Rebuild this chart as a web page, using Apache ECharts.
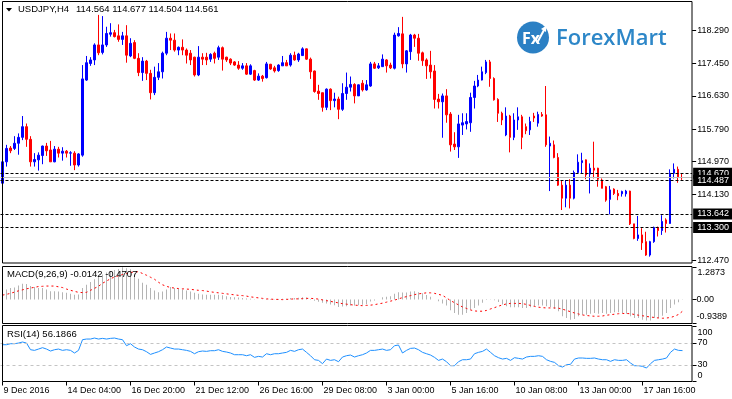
<!DOCTYPE html>
<html>
<head>
<meta charset="utf-8">
<script src="https://cdn.jsdelivr.net/npm/echarts@6/dist/echarts.min.js"></script>
<style>
  html, body { margin: 0; padding: 0; background: #fff; }
  #chart { width: 732px; height: 399px; }
</style>
</head>
<body>
<div id="chart"></div>
<script>
  // USDJPY H4 bars
  const open = [114.42,114.96,115.31,115.30,115.43,115.58,115.85,115.53,114.96,115.01,
    115.12,115.36,115.26,114.96,115.28,115.18,115.23,115.18,115.18,114.88,
    115.13,117.03,117.45,117.54,117.92,117.73,117.92,118.19,118.23,118.15,
    118.06,118.15,117.64,117.98,117.58,117.22,117.51,117.20,116.71,117.10,
    117.24,117.71,118.09,118.04,117.79,117.86,117.79,117.71,117.61,117.16,
    117.61,117.61,117.56,117.71,117.61,117.85,117.61,117.56,117.49,117.41,
    117.33,117.39,117.18,117.27,117.03,117.13,117.09,117.43,117.34,117.27,
    117.39,117.47,117.41,117.66,117.54,117.65,117.82,117.56,117.26,116.75,
    116.71,116.34,116.80,116.51,116.55,116.29,116.69,116.85,116.92,116.63,
    116.95,116.78,116.88,117.44,117.34,117.37,117.54,117.41,117.33,118.15,
    118.20,117.44,117.75,118.17,118.09,117.72,117.54,117.41,117.26,116.55,
    116.48,116.63,116.17,115.41,115.34,115.89,115.92,115.95,116.59,116.88,
    117.03,117.22,117.49,117.07,116.54,116.19,115.64,116.12,115.58,116.02,
    116.10,115.85,115.77,116.12,115.94,116.16,116.15,115.36,115.39,115.07,
    114.37,114.04,114.37,114.04,114.69,114.94,115.01,114.65,114.80,114.80,
    114.50,114.33,114.01,114.27,114.16,114.15,114.15,114.22,113.39,113.02,
    113.11,112.94,112.60,112.94,113.30,113.22,113.49,113.40,114.67,114.77,
    114.564];
  const close = [114.96,115.30,115.24,115.43,115.58,115.85,115.53,114.96,115.02,115.13,
    115.36,115.24,114.96,115.28,115.18,115.23,115.18,115.19,114.88,115.16,
    117.06,117.47,117.54,117.92,117.72,117.92,118.21,118.23,118.13,118.06,
    118.15,117.66,117.96,117.58,117.22,117.51,117.20,116.71,117.10,117.24,
    117.71,118.09,118.04,117.79,117.86,117.79,117.66,117.54,117.16,117.61,
    117.56,117.54,117.68,117.58,117.85,117.56,117.54,117.46,117.41,117.33,
    117.39,117.18,117.39,117.03,117.13,117.07,117.44,117.31,117.26,117.41,
    117.47,117.39,117.66,117.54,117.69,117.82,117.56,117.24,116.74,116.69,
    116.34,116.80,116.51,116.55,116.29,116.69,116.85,116.92,116.63,116.91,
    116.78,116.91,117.44,117.33,117.39,117.56,117.39,117.34,118.17,118.21,
    117.44,117.77,118.17,118.09,117.71,117.52,117.39,117.24,116.54,116.48,
    116.63,116.15,115.39,115.34,115.92,115.95,115.98,116.59,116.88,117.03,
    117.24,117.49,117.07,116.53,116.19,116.02,116.12,115.58,116.02,116.10,
    115.58,115.75,115.98,116.07,116.16,116.12,115.39,115.43,115.07,114.37,
    114.04,114.37,114.04,114.69,114.95,114.99,114.63,114.80,114.75,114.52,
    114.29,113.99,114.25,114.16,114.10,114.21,114.22,113.39,113.02,113.11,
    112.91,112.60,112.94,113.30,113.22,113.45,113.40,114.67,114.77,114.58,
    114.561];
  const low = [114.37,114.84,115.18,115.26,115.14,115.51,115.34,114.84,114.84,114.74,
    114.90,115.11,114.96,114.95,115.07,114.99,115.07,114.86,114.75,114.84,
    115.09,117.01,117.39,117.41,117.66,117.68,117.87,118.13,118.11,118.00,
    117.92,117.47,117.61,117.56,117.13,117.01,117.03,116.54,116.65,117.03,
    117.07,117.66,117.79,117.75,117.66,117.66,117.45,117.41,117.12,117.13,
    117.41,117.41,117.49,117.45,117.54,117.27,117.49,117.41,117.39,117.29,
    117.29,117.16,117.16,117.01,117.01,116.99,117.07,117.29,117.22,117.24,
    117.39,117.39,117.37,117.52,117.49,117.64,117.54,117.06,116.71,116.53,
    116.23,116.27,116.27,116.34,116.04,116.25,116.53,116.74,116.44,116.63,
    116.74,116.76,116.86,117.31,117.31,117.37,117.22,117.31,117.30,118.13,
    117.33,117.22,117.54,117.87,117.52,117.39,117.06,117.07,116.31,116.31,
    115.57,115.95,115.22,115.26,115.06,115.64,115.78,115.72,116.31,116.85,
    117.02,117.18,116.86,116.51,115.97,115.89,115.61,115.20,115.51,115.77,
    115.28,115.66,115.64,115.97,115.85,116.10,115.34,114.22,115.05,114.35,
    113.74,113.81,113.78,114.01,114.67,114.67,114.52,114.16,114.54,114.33,
    114.29,113.95,113.63,114.12,113.99,114.08,114.08,113.36,113.00,112.96,
    112.73,112.58,112.56,112.91,113.07,113.11,113.17,113.39,114.54,114.43,
    114.504];
  const high = [115.28,115.39,115.36,115.61,115.68,116.12,115.93,115.61,115.18,115.20,
    115.37,115.44,115.49,115.36,115.34,115.33,115.26,115.23,115.23,115.18,
    117.41,117.64,117.61,117.96,118.68,118.65,118.38,118.47,118.30,118.44,
    118.25,118.42,118.09,118.04,117.71,117.61,117.54,117.29,117.37,117.46,
    117.75,118.25,118.21,118.21,117.88,118.06,117.83,117.79,117.62,117.89,
    117.71,117.72,117.71,117.75,117.90,117.88,117.62,117.58,117.51,117.51,
    117.46,117.46,117.43,117.29,117.20,117.16,117.49,117.44,117.39,117.43,
    117.64,117.54,117.71,117.75,117.72,117.86,117.83,117.60,117.27,116.91,
    116.71,116.82,116.82,116.71,116.61,116.95,117.22,117.12,116.95,116.92,
    117.03,117.03,117.49,117.49,117.46,117.68,117.56,117.47,118.23,118.37,
    118.63,117.79,118.20,118.20,118.20,117.75,117.58,117.77,117.41,116.68,
    116.69,116.80,116.22,115.71,116.15,116.19,116.19,116.71,117.01,117.16,
    117.37,117.54,117.54,117.10,116.57,116.23,116.34,116.15,116.19,116.34,
    116.15,115.93,116.10,116.20,116.23,116.22,116.88,115.60,115.50,115.18,
    114.50,114.50,114.52,114.74,115.15,115.19,115.02,114.92,115.47,114.81,
    114.54,114.35,114.35,114.29,114.25,114.23,114.25,114.23,113.39,113.59,
    113.28,113.19,112.96,113.32,113.32,113.61,113.53,114.77,114.92,114.84,
    114.677];

  // MACD(9,26,9): main (histogram) and signal
  const macd = [0.28,0.39,0.45,0.47,0.55,0.62,0.61,0.53,0.49,0.45,
    0.45,0.39,0.32,0.32,0.31,0.28,0.26,0.22,0.18,0.19,
    0.45,0.58,0.69,0.80,0.89,0.99,1.07,1.12,1.17,1.21,
    1.28,1.24,1.20,1.03,0.82,0.66,0.58,0.45,0.35,0.28,
    0.31,0.39,0.49,0.45,0.42,0.39,0.35,0.31,0.26,0.22,
    0.19,0.18,0.18,0.18,0.18,0.16,0.12,0.09,0.08,0.07,
    0.05,0.04,0.03,0.01,0.00,-0.01,0.02,0.02,0.01,0.02,
    0.03,0.03,0.05,0.05,0.06,0.08,0.07,0.02,-0.05,-0.09,
    -0.13,-0.16,-0.20,-0.23,-0.30,-0.28,-0.27,-0.24,-0.24,-0.23,
    -0.21,-0.19,-0.08,-0.04,0.00,0.08,0.10,0.12,0.22,0.28,
    0.27,0.27,0.31,0.32,0.28,0.24,0.17,0.10,0.00,-0.07,
    -0.16,-0.24,-0.43,-0.54,-0.61,-0.61,-0.54,-0.40,-0.34,-0.24,
    -0.13,-0.02,-0.01,-0.03,-0.10,-0.20,-0.27,-0.31,-0.31,-0.31,
    -0.34,-0.34,-0.31,-0.27,-0.24,-0.24,-0.27,-0.30,-0.38,-0.47,
    -0.67,-0.74,-0.81,-0.78,-0.67,-0.61,-0.61,-0.57,-0.54,-0.57,
    -0.54,-0.57,-0.54,-0.51,-0.51,-0.54,-0.57,-0.67,-0.74,-0.74,
    -0.81,-0.84,-0.84,-0.74,-0.74,-0.65,-0.54,-0.34,-0.20,-0.11,
    -0.0142];
  const signal = [0.17,0.20,0.24,0.29,0.34,0.38,0.42,0.45,0.48,0.51,
    0.52,0.53,0.53,0.53,0.50,0.47,0.41,0.36,0.32,0.28,
    0.27,0.28,0.36,0.44,0.52,0.64,0.73,0.82,0.89,0.94,
    0.99,1.03,1.07,1.09,1.10,1.03,0.96,0.88,0.80,0.68,
    0.58,0.52,0.47,0.45,0.43,0.42,0.41,0.40,0.38,0.36,
    0.35,0.33,0.30,0.28,0.26,0.24,0.22,0.20,0.18,0.16,
    0.15,0.13,0.10,0.08,0.06,0.04,0.02,0.01,0.00,0.00,
    -0.01,0.00,0.01,0.02,0.02,0.03,0.04,0.04,0.03,0.01,
    -0.02,-0.05,-0.08,-0.11,-0.14,-0.17,-0.19,-0.21,-0.23,-0.24,
    -0.25,-0.24,-0.23,-0.21,-0.18,-0.15,-0.11,-0.07,-0.03,0.02,
    0.07,0.11,0.15,0.19,0.22,0.24,0.26,0.26,0.24,0.20,
    0.16,0.06,-0.05,-0.13,-0.22,-0.30,-0.36,-0.42,-0.46,-0.47,
    -0.47,-0.44,-0.38,-0.33,-0.27,-0.22,-0.18,-0.16,-0.16,-0.16,
    -0.17,-0.20,-0.24,-0.28,-0.31,-0.33,-0.34,-0.34,-0.34,-0.35,
    -0.39,-0.44,-0.49,-0.54,-0.58,-0.62,-0.64,-0.66,-0.67,-0.67,
    -0.66,-0.63,-0.61,-0.59,-0.57,-0.56,-0.56,-0.57,-0.60,-0.63,
    -0.65,-0.68,-0.70,-0.72,-0.74,-0.75,-0.74,-0.72,-0.67,-0.60,
    -0.4707];

  // RSI(14)
  const rsi = [66.9,66.9,68.7,68.7,69.9,71.8,69.9,57.8,56.6,59.0,
    61.5,59.0,55.4,57.8,59.0,56.6,57.8,56.6,51.8,56.6,
    76.0,77.2,77.2,79.0,77.2,78.4,77.2,78.4,79.0,77.2,
    76.0,65.1,68.7,62.7,59.0,57.8,54.2,49.3,51.8,54.2,
    57.8,62.7,60.8,59.0,59.0,57.8,56.6,54.8,50.5,54.2,
    55.4,54.8,56.0,56.0,57.8,54.8,53.6,51.8,48.7,48.7,
    48.7,46.9,48.7,43.9,45.7,44.5,50.5,48.7,50.5,50.5,
    51.8,53.0,56.6,54.8,57.8,59.0,53.0,46.9,39.6,38.4,
    32.4,40.8,38.4,39.6,36.0,44.5,46.9,48.1,44.5,46.9,
    48.7,51.8,56.6,56.6,57.8,59.0,56.6,57.8,65.1,66.3,
    51.8,56.6,60.2,60.8,57.8,53.0,50.5,48.1,43.9,38.4,
    40.8,36.0,28.7,28.7,36.0,39.6,39.6,40.8,50.5,53.0,
    54.8,59.0,53.0,46.9,43.3,40.8,42.1,38.4,43.3,42.1,
    40.8,44.5,45.7,45.7,46.9,45.7,39.6,36.6,34.8,28.7,
    26.3,30.5,31.2,40.8,42.7,42.7,42.1,42.1,42.7,40.8,
    39.6,39.6,36.6,39.6,38.4,38.4,39.6,33.6,28.7,28.7,
    27.5,24.5,32.4,38.4,39.6,40.8,42.7,53.0,59.0,56.6,
    56.1866];

  const timeLabels = ['9 Dec 2016', '14 Dec 04:00', '16 Dec 20:00', '21 Dec 12:00', '26 Dec 16:00',
    '29 Dec 08:00', '3 Jan 00:00', '5 Jan 16:00', '10 Jan 08:00', '13 Jan 00:00', '17 Jan 16:00'];
  const priceTicks = [118.29, 117.45, 116.63, 115.79, 114.97, 114.13, 112.47];
  const macdTicks = [1.2873, 0, -0.9389];
  const rsiTicks = [100, 70, 30, 0];
  const levels = [114.670, 113.642, 113.300, 114.487]; // dashed lines, 114.487 drawn last
  const bid = 114.561;

  const FONT = 'Liberation Sans';
  const SLOTS = 173; // 171 bars + empty chart shift
  const cats = [];
  for (let i = 0; i < SLOTS; i++) cats.push(String(i));
  const ohlc = open.map((o, i) => [o, close[i], low[i], high[i]]);

  const txt = { color: '#000', fontSize: 9, fontFamily: FONT };

  function xAx(idx, withLabels) {
    return {
      type: 'category', gridIndex: idx, data: cats, boundaryGap: true,
      axisLine: { show: false },
      axisTick: withLabels
        ? { show: true, alignWithLabel: true, interval: 15, length: 4, lineStyle: { color: '#000' } }
        : { show: false },
      axisLabel: withLabels
        ? Object.assign({ interval: 15, align: 'left', margin: 5, padding: [0, 0, 0, 1],
            formatter: (v, i) => timeLabels[i / 16] || '' }, txt)
        : { show: false },
      splitLine: { show: false }
    };
  }

  let broken = echarts.init(document.getElementById('chart'))
  let option = {
    animation: false,
    backgroundColor: '#fff',
    grid: [
      { left: 0.5, top: 1, width: 692, height: 262 },
      { left: 0.5, top: 267, width: 692, height: 56 },
      { left: 0.5, top: 326.5, width: 692, height: 55 }
    ],
    xAxis: [xAx(0, false), xAx(1, false), xAx(2, true)],
    yAxis: [
      {
        type: 'value', gridIndex: 0, position: 'right', min: 112.399, max: 119.032,
        axisLine: { show: false }, splitLine: { show: false },
        axisTick: { show: true, length: 4, customValues: priceTicks, lineStyle: { color: '#000' } },
        axisLabel: Object.assign({ customValues: priceTicks, margin: 5, formatter: v => v.toFixed(3) }, txt)
      },
      {
        type: 'value', gridIndex: 1, position: 'right', min: -0.9389, max: 1.2873,
        axisLine: { show: false }, splitLine: { show: false },
        axisTick: { show: true, length: 4, customValues: macdTicks, lineStyle: { color: '#000' } },
        axisLabel: Object.assign({
          customValues: macdTicks, margin: 4,
          formatter: v => v > 1 ? '{t|' + v.toFixed(4) + '}' : (v < -0.5 ? '{b|' + v.toFixed(4) + '}' : '0.00'),
          rich: {
            t: Object.assign({ padding: [11, 0, 0, 1] }, txt),
            b: Object.assign({ padding: [0, 0, 12, 0] }, txt)
          }
        }, txt)
      },
      {
        type: 'value', gridIndex: 2, position: 'right', min: 0, max: 100,
        axisLine: { show: false }, splitLine: { show: false },
        axisTick: { show: true, length: 4, customValues: rsiTicks, lineStyle: { color: '#000' } },
        axisLabel: Object.assign({
          customValues: rsiTicks, margin: 5,
          formatter: v => v === 100 ? '{t|100}' : (v === 0 ? '{b|0}' : String(v)),
          rich: {
            t: Object.assign({ padding: [12, 0, 0, 0] }, txt),
            b: Object.assign({ padding: [0, 0, 12, 0] }, txt)
          }
        }, txt)
      }
    ],
    series: [
      {
        type: 'candlestick', xAxisIndex: 0, yAxisIndex: 0, data: ohlc, barWidth: 2,
        itemStyle: { color: '#0000ff', color0: '#ff0000', borderColor: '#0000ff', borderColor0: '#ff0000', borderWidth: 1 },
        markLine: {
          silent: true, symbol: ['none', 'none'], animation: false, precision: 3,
          data: [{
            yAxis: bid, label: { show: false },
            lineStyle: { color: '#bdbdbd', type: 'solid', width: 1 }
          }].concat(levels.map(v => ({
            yAxis: v,
            lineStyle: { color: '#000', type: [3, 2], width: 1 },
            label: Object.assign({
              show: true, position: 'end', distance: 1, formatter: v.toFixed(3),
              backgroundColor: '#000', padding: [1, 5, 0, 4], lineHeight: 10
            }, txt, { color: '#fff' })
          })))
        }
      },
      {
        type: 'bar', xAxisIndex: 1, yAxisIndex: 1, data: macd, barWidth: 1,
        itemStyle: { color: '#b4b4b4' }
      },
      {
        type: 'line', xAxisIndex: 1, yAxisIndex: 1, data: signal, symbol: 'none',
        lineStyle: { color: '#ff0000', width: 1, type: [2, 3] }
      },
      {
        type: 'line', xAxisIndex: 2, yAxisIndex: 2, data: rsi, symbol: 'none',
        lineStyle: { color: '#1e90ff', width: 1 },
        markLine: {
          silent: true, symbol: ['none', 'none'], animation: false, label: { show: false },
          lineStyle: { color: '#c4c4c4', type: [3, 3], width: 1 },
          data: [{ yAxis: 70 }, { yAxis: 30 }]
        }
      }
    ],
    graphic: [
      // panel frames
      { type: 'rect', z: 100, shape: { x: 2.5, y: 1.5, width: 689.5, height: 261.5 }, style: { fill: 'none', stroke: '#000', lineWidth: 1 } },
      { type: 'rect', z: 100, shape: { x: 2.5, y: 266.5, width: 689.5, height: 57 }, style: { fill: 'none', stroke: '#000', lineWidth: 1 } },
      { type: 'rect', z: 100, shape: { x: 2.5, y: 325.5, width: 689.5, height: 56 }, style: { fill: 'none', stroke: '#000', lineWidth: 1 } },
      // titles
      { type: 'polygon', z: 100, shape: { points: [[6, 8], [12, 8], [9, 11.5]] }, style: { fill: '#000' } },
      { type: 'text', z: 100, x: 18, y: 9.5, style: { text: 'USDJPY,H4', fill: '#000', font: '9.5px "Liberation Sans"', verticalAlign: 'middle' } },
      { type: 'text', z: 100, x: 76, y: 9.5, style: { text: '114.564 114.677 114.504 114.561', fill: '#000', font: '9.5px "Liberation Sans"', verticalAlign: 'middle' } },
      { type: 'text', z: 100, x: 7, y: 274.5, style: { text: 'MACD(9,26,9) -0.0142 -0.4707', fill: '#000', font: '9.5px "Liberation Sans"', verticalAlign: 'middle' } },
      { type: 'text', z: 100, x: 7, y: 334, style: { text: 'RSI(14) 56.1866', fill: '#000', font: '9.5px "Liberation Sans"', verticalAlign: 'middle' } },
      // ForexMart logo
      { type: 'circle', z: 100, shape: { cx: 533, cy: 37.5, r: 16 }, style: { fill: '#2b80c4' } },
      { type: 'text', z: 101, x: 531, y: 39.5, style: { text: 'Fx', fill: '#fff', font: 'bold 16px "Open Sans"', align: 'center', verticalAlign: 'middle' } },
      { type: 'line', z: 101, shape: { x1: 537, y1: 43, x2: 544, y2: 30 }, style: { stroke: '#fff', lineWidth: 2 } },
      { type: 'polygon', z: 101, shape: { points: [[541, 29], [546.5, 25.5], [546, 32]] }, style: { fill: '#fff' } },
      { type: 'text', z: 100, x: 556, y: 38.5, style: { text: 'ForexMart', fill: '#2d87c8', font: '600 22px "Open Sans"', verticalAlign: 'middle' } }
    ]
  }
  broken.setOption(option)
</script>
</body>
</html>
